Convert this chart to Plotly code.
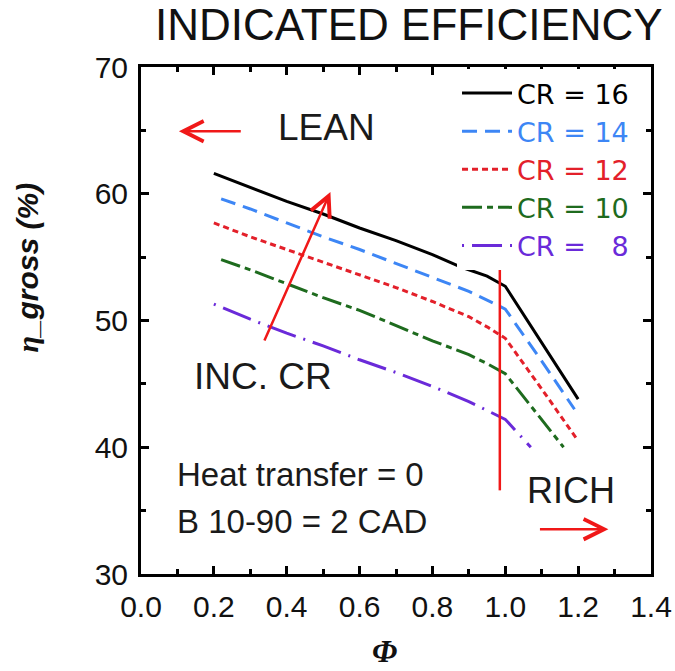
import plotly.graph_objects as go

# ---------------- data ----------------
phi_cr16 = [0.2, 0.3, 0.4, 0.5, 0.6, 0.7, 0.8, 0.88, 0.95, 1.0, 1.1, 1.2]
eta_cr16 = [61.6, 60.5, 59.4, 58.4, 57.3, 56.3, 55.2, 54.2, 53.5, 52.7, 48.3, 43.8]

phi_cr14 = [0.22, 0.3, 0.4, 0.5, 0.6, 0.7, 0.8, 0.9, 0.95, 1.0, 1.1, 1.19]
eta_cr14 = [59.6, 58.8, 57.7, 56.6, 55.6, 54.5, 53.4, 52.3, 51.6, 50.9, 46.8, 43.0]

phi_cr12 = [0.2, 0.3, 0.4, 0.5, 0.6, 0.7, 0.8, 0.9, 0.95, 1.0, 1.1, 1.2]
eta_cr12 = [57.7, 56.6, 55.6, 54.6, 53.6, 52.6, 51.5, 50.3, 49.5, 48.6, 44.6, 40.5]

phi_cr10 = [0.22, 0.3, 0.4, 0.5, 0.6, 0.7, 0.8, 0.9, 0.95, 1.0, 1.1, 1.16]
eta_cr10 = [54.8, 54.0, 52.9, 51.8, 50.8, 49.6, 48.4, 47.3, 46.6, 45.8, 42.2, 40.0]

phi_cr8 = [0.2, 0.3, 0.4, 0.5, 0.6, 0.7, 0.8, 0.9, 1.0, 1.07]
eta_cr8 = [51.3, 50.1, 49.0, 48.0, 46.9, 45.9, 44.8, 43.6, 42.2, 40.0]

series_names = ["CR = 16", "CR = 14", "CR = 12", "CR = 10", "CR =\u00a0\u00a0\u00a08"]
x_range = [0.0, 1.4]
y_range = [30, 70]

# stoichiometric marker line (phi, eta range)
stoich_phi = 0.985
stoich_eta = [36.6, 54.6]

# ---------------- styling ----------------
W, H = 675, 671
L, R, T, B = 140.5, 24, 67, 97
PW, PH = W - L - R, H - T - B

def px_x(px):
    return (px - L) / PW

def px_y(py):
    return (H - B - py) / PH

colors = ["#000000", "#3d86f5", "#e3202a", "#1e6b1e", "#6a2ad9"]
dashes = ["solid", "15px,8px", "6px,4px", "20px,5px,6px,5px", "2px,8px,30px,8px"]
xs = [phi_cr16, phi_cr14, phi_cr12, phi_cr10, phi_cr8]
ys = [eta_cr16, eta_cr14, eta_cr12, eta_cr10, eta_cr8]

SANS = "Liberation Sans, Arial, sans-serif"
SERIF = "Liberation Serif, Times New Roman, serif"
LEG = "DejaVu Sans, Liberation Sans, sans-serif"

fig = go.Figure()
for xv, yv, c, d, n in zip(xs, ys, colors, dashes, series_names):
    fig.add_trace(go.Scatter(
        x=xv, y=yv, mode="lines",
        line=dict(color=c, width=3, dash=d),
        name=f"<span style='color:{c}'>{n}</span>",
    ))

red = "#f01818"
annotations = [
    dict(text="INDICATED EFFICIENCY", xref="paper", yref="paper",
         x=px_x(409), y=px_y(24), xanchor="center", yanchor="middle",
         showarrow=False, font=dict(family=SANS, size=44, color="#111")),
    dict(text="<b><i><span style='font-family:Liberation Serif'>η</span>_gross (%)</i></b>",
         xref="paper", yref="paper", x=px_x(26), y=px_y(268),
         xanchor="center", yanchor="middle", textangle=-90, showarrow=False,
         font=dict(family=SANS, size=30, color="#111")),
    dict(text="<b><i>Φ</i></b>", xref="paper", yref="paper",
         x=px_x(384), y=px_y(651), xanchor="center", yanchor="middle",
         showarrow=False, font=dict(family=SERIF, size=32, color="#111")),
    dict(text="LEAN", x=0.509, y=65.2, xref="x", yref="y", showarrow=False,
         font=dict(family=SANS, size=37, color="#1a1a1a")),
    dict(text="INC. CR", x=0.336, y=45.55, xref="x", yref="y", showarrow=False,
         font=dict(family=SANS, size=37, color="#1a1a1a")),
    dict(text="RICH", x=1.181, y=36.56, xref="x", yref="y", showarrow=False,
         font=dict(family=SANS, size=36, color="#1a1a1a")),
    dict(text="Heat transfer = 0", x=0.092, y=37.85, xref="x", yref="y",
         xanchor="left", showarrow=False,
         font=dict(family=SANS, size=33, color="#1a1a1a")),
    dict(text="B 10-90 = 2 CAD", x=0.092, y=34.15, xref="x", yref="y",
         xanchor="left", showarrow=False,
         font=dict(family=SANS, size=33, color="#1a1a1a")),
    dict(text="", x=0.104, y=64.93, ax=0.278, ay=64.93, xref="x", yref="y",
         axref="x", ayref="y", showarrow=True, arrowhead=5, arrowsize=1.6,
         arrowwidth=2.5, arrowcolor=red, standoff=0, startstandoff=0),
    dict(text="", x=0.52, y=60.14, ax=0.337, ay=48.3, xref="x", yref="y",
         axref="x", ayref="y", showarrow=True, arrowhead=5, arrowsize=1.6,
         arrowwidth=2.5, arrowcolor=red, standoff=0, startstandoff=0),
    dict(text="", x=1.283, y=33.54, ax=1.091, ay=33.54, xref="x", yref="y",
         axref="x", ayref="y", showarrow=True, arrowhead=5, arrowsize=1.6,
         arrowwidth=2.5, arrowcolor=red, standoff=0, startstandoff=0),
]

fig.add_shape(type="line", x0=stoich_phi, x1=stoich_phi,
              y0=stoich_eta[0], y1=stoich_eta[1], xref="x", yref="y",
              opacity=1, layer="above",
              line=dict(color=red, width=2.5))

fig.update_layout(
    template="simple_white",
    width=W, height=H,
    margin=dict(l=L, r=R, t=T, b=B, autoexpand=False),
    paper_bgcolor="white", plot_bgcolor="white",
    showlegend=True,
    legend=dict(
        x=px_x(634), y=px_y(69), xanchor="right", yanchor="top",
        bgcolor="white", borderwidth=0,
        font=dict(family=LEG, size=27),
        itemwidth=50, tracegroupgap=0,
    ),
    annotations=annotations,
)

fig.update_xaxes(
    range=x_range, tickmode="linear", tick0=0, dtick=0.2, tickformat=".1f",
    showline=True, linewidth=3, linecolor="black", mirror="ticks",
    ticks="inside", ticklen=8, tickwidth=3, tickcolor="black",
    showgrid=False, zeroline=False, ticklabelstandoff=4,
    tickfont=dict(family=SANS, size=30, color="#111"),
    minor=dict(dtick=0.1, ticks="inside", ticklen=5, tickwidth=2.5,
               tickcolor="black", showgrid=False),
)
fig.update_yaxes(
    range=y_range, tickmode="linear", tick0=30, dtick=10,
    showline=True, linewidth=3, linecolor="black", mirror="ticks",
    ticks="inside", ticklen=8, tickwidth=3, tickcolor="black",
    showgrid=False, zeroline=False, ticklabelstandoff=4,
    tickfont=dict(family=SANS, size=30, color="#111"),
    minor=dict(dtick=5, ticks="inside", ticklen=5, tickwidth=2.5,
               tickcolor="black", showgrid=False),
)

fig.write_html("out.html")
